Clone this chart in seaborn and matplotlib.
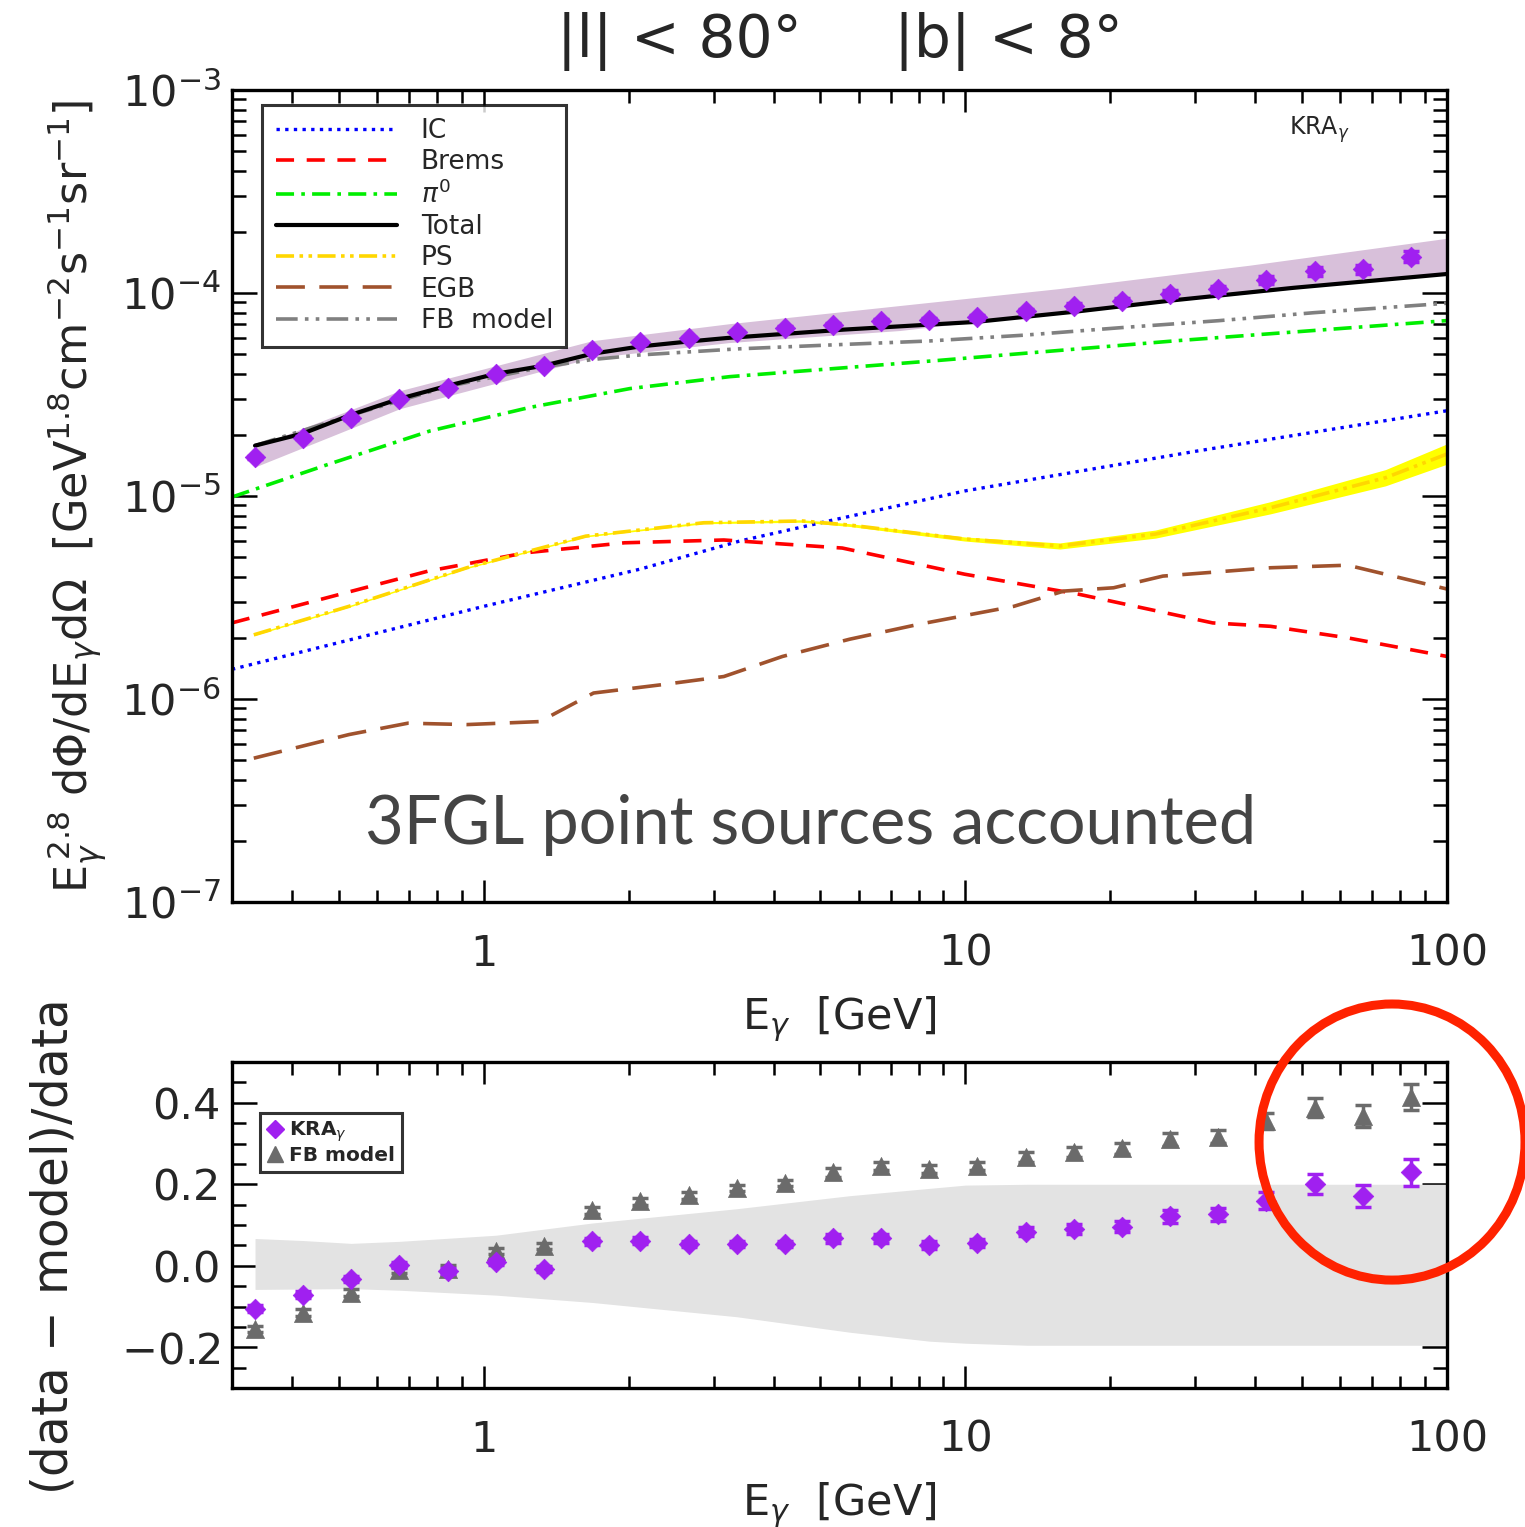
import numpy as np
import pandas as pd
import matplotlib
matplotlib.use("Agg")
import matplotlib.pyplot as plt
import seaborn as sns
from matplotlib.patches import Ellipse
from matplotlib.ticker import LogLocator, NullFormatter, FixedLocator, MultipleLocator, FixedFormatter

# ---------------- data ----------------
E_data = [0.335, 0.422, 0.531, 0.668, 0.841, 1.059, 1.334, 1.679, 2.113, 2.661,
          3.350, 4.217, 5.309, 6.683, 8.414, 10.59, 13.34, 16.79, 21.13, 26.61,
          33.50, 42.17, 53.09, 66.83, 84.14]
flux_kra = [1.55e-5, 1.94e-5, 2.41e-5, 3.00e-5, 3.42e-5, 3.99e-5, 4.38e-5, 5.25e-5,
            5.72e-5, 6.01e-5, 6.41e-5, 6.73e-5, 6.98e-5, 7.26e-5, 7.38e-5, 7.60e-5,
            8.13e-5, 8.67e-5, 9.12e-5, 9.91e-5, 1.04e-4, 1.16e-4, 1.28e-4, 1.31e-4, 1.51e-4]
flux_relerr = [0.015, 0.015, 0.015, 0.015, 0.015, 0.015, 0.015, 0.015, 0.015, 0.015,
               0.015, 0.02, 0.02, 0.025, 0.025, 0.03, 0.03, 0.035, 0.035, 0.04,
               0.04, 0.045, 0.05, 0.05, 0.06]

band_E = [0.335, 0.669, 1.68, 3.24, 7.3, 15.6, 38.9, 100.0]
band_hi = [1.746e-5, 3.30e-5, 5.82e-5, 7.06e-5, 8.67e-5, 1.05e-4, 1.37e-4, 1.86e-4]
band_lo = [1.39e-5, 2.69e-5, 4.80e-5, 5.70e-5, 6.53e-5, 8.01e-5, 9.95e-5, 1.26e-4]

E_ic = [0.3, 1.0, 2.11, 3.4, 5.2, 10.0, 30.5, 100.0]
ic = [1.40e-6, 2.86e-6, 4.36e-6, 6.0e-6, 7.53e-6, 1.06e-5, 1.67e-5, 2.63e-5]

E_brems = [0.3, 0.486, 0.765, 1.222, 1.96, 3.15, 5.55, 9.95, 17.2, 32.6, 43.0, 62.2, 100.0]
brems = [2.37e-6, 3.21e-6, 4.26e-6, 5.25e-6, 5.88e-6, 6.07e-6, 5.54e-6, 4.12e-6,
         3.28e-6, 2.37e-6, 2.28e-6, 2.00e-6, 1.62e-6]

E_pi0 = [0.3, 0.479, 0.773, 1.246, 2.01, 3.24, 8.77, 27.5, 100.0]
pi0 = [9.88e-6, 1.44e-5, 2.09e-5, 2.73e-5, 3.38e-5, 3.87e-5, 4.65e-5, 5.82e-5, 7.31e-5]

E_total = [0.335, 0.421, 0.53, 0.668, 0.841, 1.06, 1.33, 1.68, 2.11, 2.63, 3.2,
           5.6, 10.5, 17.0, 27.0, 48.0, 100.0]
total = [1.77e-5, 2.03e-5, 2.51e-5, 3.01e-5, 3.49e-5, 4.00e-5, 4.38e-5, 5.02e-5,
         5.45e-5, 5.75e-5, 6.0e-5, 6.6e-5, 7.2e-5, 8.1e-5, 9.2e-5, 1.06e-4, 1.24e-4]

E_ps = [0.333, 0.525, 0.922, 1.628, 2.86, 4.59, 5.75, 9.95, 15.7, 24.8, 43.0, 74.5, 100.0]
ps = [2.07e-6, 2.86e-6, 4.43e-6, 6.34e-6, 7.38e-6, 7.53e-6, 7.19e-6, 6.14e-6,
      5.67e-6, 6.49e-6, 8.75e-6, 1.23e-5, 1.61e-5]
ps_halfwidth_dex = [0.004, 0.004, 0.004, 0.004, 0.005, 0.006, 0.007, 0.01,
                    0.015, 0.02, 0.03, 0.04, 0.05]

E_egb = [0.333, 0.525, 0.696, 0.922, 1.307, 1.69, 2.37, 3.15, 4.17, 5.75, 7.98,
         12.6, 16.0, 20.3, 25.7, 43.0, 62.2, 100.0]
egb = [5.11e-7, 6.68e-7, 7.60e-7, 7.48e-7, 7.74e-7, 1.07e-6, 1.18e-6, 1.29e-6,
       1.62e-6, 1.97e-6, 2.33e-6, 2.86e-6, 3.40e-6, 3.53e-6, 4.03e-6, 4.43e-6,
       4.56e-6, 3.48e-6]

E_fb = [0.335, 0.53, 0.84, 1.33, 1.68, 2.11, 3.35, 5.31, 8.41, 13.3, 21.1, 33.5, 53.1, 100.0]
fb = [1.77e-5, 2.50e-5, 3.46e-5, 4.32e-5, 4.70e-5, 4.95e-5, 5.30e-5, 5.55e-5,
      5.80e-5, 6.20e-5, 6.75e-5, 7.3e-5, 8.0e-5, 8.9e-5]

res_kra = [-0.105, -0.071, -0.032, 0.002, -0.013, 0.009, -0.008, 0.060, 0.062, 0.053,
           0.053, 0.053, 0.067, 0.067, 0.051, 0.055, 0.084, 0.090, 0.096, 0.121,
           0.126, 0.160, 0.201, 0.172, 0.229]
res_kra_err = [0.008, 0.008, 0.008, 0.008, 0.008, 0.008, 0.008, 0.008, 0.008, 0.008,
               0.008, 0.008, 0.01, 0.01, 0.01, 0.01, 0.012, 0.012, 0.014, 0.015,
               0.016, 0.02, 0.024, 0.027, 0.032]
res_fb = [-0.155, -0.115, -0.066, -0.010, -0.007, 0.036, 0.048, 0.136, 0.158, 0.173,
          0.191, 0.203, 0.229, 0.244, 0.237, 0.245, 0.266, 0.279, 0.288, 0.310,
          0.317, 0.355, 0.388, 0.367, 0.415]
res_fb_err = res_kra_err

rband_E = [0.335, 0.421, 0.53, 0.669, 1.06, 1.68, 3.35, 5.75, 8.42, 10.0, 13.4, 100.0]
rband_hi = [0.067, 0.062, 0.055, 0.06, 0.075, 0.105, 0.14, 0.172, 0.19, 0.198, 0.2, 0.2]
rband_lo = [-0.058, -0.057, -0.056, -0.06, -0.072, -0.09, -0.125, -0.163, -0.185,
            -0.19, -0.195, -0.195]

title_text = "|l| < 80°     |b| < 8°"
note_text = "3FGL point sources accounted"

# ---------------- style ----------------
sns.set_style("ticks")
plt.rcParams["font.family"] = ["DejaVu Sans"]
plt.rcParams["mathtext.fontset"] = "dejavusans"

PURPLE = "#a020f0"
fig = plt.figure(figsize=(15.25, 15.27), dpi=100)
ax1 = fig.add_axes([0.1521, 0.4093, 0.7968, 0.5318])
ax2 = fig.add_axes([0.1521, 0.0910, 0.7968, 0.2135])

for ax in (ax1, ax2):
    ax.set_xscale("log")
    ax.set_xlim(0.3, 100)
    for s in ax.spines.values():
        s.set_linewidth(2.4)
        s.set_color("black")
        s.set_zorder(10)
ax1.set_yscale("log")
ax1.set_ylim(1e-7, 1e-3)
ax2.set_ylim(-0.3, 0.5)

# ---------------- top panel ----------------
ax1.fill_between(band_E, band_lo, band_hi, color="#d8c0da", linewidth=0, zorder=1)

lw = 2.6
line_specs = [
    ("IC", E_ic, ic, "#0000ff", (0, (1, 1.6)), 2.4),
    ("Brems", E_brems, brems, "#ff0000", (0, (5, 3.5)), lw),
    ("$\\pi^0$", E_pi0, pi0, "#00ee00", (0, (5, 2, 1, 2)), lw),
    ("Total", E_total, total, "black", "-", 3.0),
    ("PS", E_ps, ps, "#ffd700", (0, (5, 1.5, 1, 1.5, 1, 1.5)), lw),
    ("EGB", E_egb, egb, "#a0522d", (0, (8, 4)), lw),
    ("FB  model", E_fb, fb, "#808080", (0, (6, 2, 1, 2, 1, 2)), lw),
]

# PS uncertainty band (yellow)
ps_arr = np.array(ps)
hw = np.array(ps_halfwidth_dex)
ax1.fill_between(E_ps, ps_arr * 10 ** (-hw), ps_arr * 10 ** hw, color="#ffff00",
                 linewidth=0, zorder=2)

handles = []
for label, xs, ys, col, ls, w in line_specs:
    df = pd.DataFrame({"E": xs, "F": ys})
    sns.lineplot(data=df, x="E", y="F", ax=ax1, color=col, linestyle=ls,
                 linewidth=w, estimator=None, sort=False, zorder=4 if label != "Total" else 5)
    handles.append(plt.Line2D([], [], color=col, linestyle=ls, linewidth=w, label=label))

kra_df = pd.DataFrame({"E": E_data, "F": flux_kra})
err = np.array(flux_kra) * np.array(flux_relerr)
ax1.errorbar(E_data, flux_kra, yerr=err, fmt="none", ecolor=PURPLE, elinewidth=2.5,
             capsize=6, capthick=2.5, zorder=6)
sns.scatterplot(data=kra_df, x="E", y="F", ax=ax1, marker="D", s=110, color=PURPLE,
                edgecolor=PURPLE, linewidth=0.5, zorder=7, legend=False)

leg = ax1.legend(handles=handles, loc="upper left", bbox_to_anchor=(0.025, 0.982),
                 borderaxespad=0, fontsize=19, handlelength=4.6, handletextpad=0.9,
                 labelspacing=0.2, frameon=True, fancybox=False, borderpad=0.5)
leg.get_frame().set_edgecolor("black")
leg.get_frame().set_linewidth(2.2)

ax1.text(0.895, 0.951, "KRA$_\\gamma$", transform=ax1.transAxes, fontsize=17,
         ha="center", va="center")
ax1.text(0.476, 0.095, note_text, transform=ax1.transAxes, fontsize=48,
         color="#444444", ha="center", va="center", family=["Lato", "DejaVu Sans"])

ax1.set_ylabel("E$_\\gamma^{\\,2.8}$ d$\\Phi$/dE$_\\gamma$d$\\Omega$  [GeV$^{1.8}$cm$^{-2}$s$^{-1}$sr$^{-1}$]",
               fontsize=32, labelpad=8)
ax1.set_xlabel("E$_\\gamma$  [GeV]", fontsize=31, labelpad=14)

# ---------------- bottom panel ----------------
ax2.fill_between(rband_E, rband_lo, rband_hi, color="#e3e3e3", linewidth=0, zorder=1)
GRAY = "#6b6b6b"
ax2.errorbar(E_data, res_fb, yerr=res_fb_err, fmt="none", ecolor=GRAY, elinewidth=2.5,
             capsize=6, capthick=2.5, zorder=4)
res_df = pd.DataFrame({"E": E_data + E_data,
                       "r": res_fb + res_kra,
                       "model": ["FB model"] * len(E_data) + ["KRA$_\\gamma$"] * len(E_data)})
sns.scatterplot(data=res_df[res_df.model == "FB model"], x="E", y="r", ax=ax2,
                marker="^", s=170, color=GRAY, edgecolor=GRAY, linewidth=0.5, zorder=5,
                legend=False)
ax2.errorbar(E_data, res_kra, yerr=res_kra_err, fmt="none", ecolor=PURPLE, elinewidth=2.5,
             capsize=6, capthick=2.5, zorder=6)
sns.scatterplot(data=res_df[res_df.model != "FB model"], x="E", y="r", ax=ax2,
                marker="D", s=110, color=PURPLE, edgecolor=PURPLE, linewidth=0.5, zorder=7,
                legend=False)

h2 = [plt.Line2D([], [], marker="D", color=PURPLE, linestyle="none", markersize=9,
                 label="KRA$_\\gamma$"),
      plt.Line2D([], [], marker="^", color=GRAY, linestyle="none", markersize=11,
                 label="FB model")]
leg2 = ax2.legend(handles=h2, loc="upper left", bbox_to_anchor=(0.023, 0.845),
                  borderaxespad=0, handlelength=0.8, handletextpad=0.3,
                  labelspacing=0.1, frameon=True, fancybox=False, borderpad=0.35,
                  prop={"weight": "bold", "size": 14.5})
leg2.get_frame().set_edgecolor("black")
leg2.get_frame().set_linewidth(2.2)

ax2.set_ylabel("(data $-$ model)/data", fontsize=35)
ax2.yaxis.set_label_coords(-0.127, 0.43)
ax2.set_xlabel("E$_\\gamma$  [GeV]", fontsize=31, labelpad=14)
ax2.yaxis.set_major_locator(FixedLocator([-0.2, 0.0, 0.2, 0.4]))
ax2.yaxis.set_major_formatter(FixedFormatter(["$-$0.2", "0.0", "0.2", "0.4"]))
ax2.yaxis.set_minor_locator(MultipleLocator(0.05))

for ax in (ax1, ax2):
    ax.xaxis.set_major_locator(FixedLocator([1, 10, 100]))
    ax.xaxis.set_major_formatter(FixedFormatter(["1", "10", "100"]))
    ax.xaxis.set_minor_locator(LogLocator(base=10, subs=np.arange(2, 10), numticks=20))
    ax.xaxis.set_minor_formatter(NullFormatter())
    ax.tick_params(which="both", direction="in", top=True, right=True, width=1.8,
                   color="black", labelsize=31)
    ax.tick_params(axis="x", which="major", length=16, pad=22)
    ax.tick_params(axis="x", which="minor", length=9)
    ax.tick_params(axis="y", which="major", length=18, pad=8)
    ax.tick_params(axis="y", which="minor", length=10)

ax1.yaxis.set_major_locator(LogLocator(base=10, numticks=10))
ax1.yaxis.set_minor_locator(LogLocator(base=10, subs=np.arange(2, 10), numticks=20))
ax1.yaxis.set_minor_formatter(NullFormatter())

fig.text(0.551, 0.9725, title_text, fontsize=42, ha="center", va="center",
         family=["Liberation Sans Narrow", "DejaVu Sans"])

# hand-drawn style red circle annotation (figure fraction)
circ = Ellipse((0.9128, 0.2521), 0.1744, 0.1808, transform=fig.transFigure,
               fill=False, edgecolor="#ff2200", linewidth=6.5, zorder=20)
fig.patches.append(circ)

fig.savefig("out.png", dpi=100)
